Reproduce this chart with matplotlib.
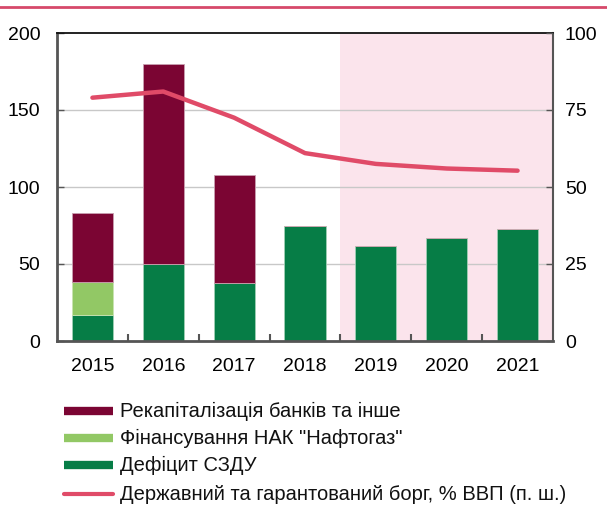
import matplotlib
matplotlib.use("Agg")
import matplotlib.pyplot as plt
from matplotlib.lines import Line2D
import numpy as np

plt.rcParams['font.family'] = ['Liberation Sans', 'DejaVu Sans']

years = ["2015", "2016", "2017", "2018", "2019", "2020", "2021"]
deficit = [17, 50, 37.5, 75, 61.5, 67, 73]
naftogaz = [21, 0, 0, 0, 0, 0, 0]
recap = [45, 130, 70, 0, 0, 0, 0]
debt_gdp = [79, 81, 72.5, 61, 57.5, 56, 55.3]

labels = ["Рекапіталізація банків та інше",
          "Фінансування НАК \"Нафтогаз\"",
          "Дефіцит СЗДУ",
          "Державний та гарантований борг, % ВВП (п. ш.)"]

c_recap = "#7B0533"
c_naft = "#92C865"
c_def = "#067D46"
c_line = "#E04B68"
c_shade = "#FBE4EC"

fs = 14

fig = plt.figure(figsize=(6.07, 5.05), dpi=100)
ax = fig.add_axes([57 / 607, 1 - 341 / 505, 496 / 607, 308 / 505])
x = np.arange(len(years))

# forecast period shading
ax.axvspan(3.5, 6.5, color=c_shade, lw=0, zorder=0)
for v in (50, 100, 150):
    ax.axhline(v, color="#C8C8C8", lw=1, zorder=1)

w = 0.58
bottom_naft = np.array(deficit)
bottom_recap = bottom_naft + np.array(naftogaz)
ax.bar(x, deficit, w, color=c_def, edgecolor="#9FCFB5", lw=0.6, zorder=2)
ax.bar(x, naftogaz, w, bottom=bottom_naft, color=c_naft, edgecolor="#C9E4B2", lw=0.6, zorder=2)
ax.bar(x, recap, w, bottom=bottom_recap, color=c_recap, edgecolor="#C9A0B0", lw=0.6, zorder=2)

ax.set_xlim(-0.5, 6.5)
ax.set_ylim(0, 200)
ax.set_yticks([0, 50, 100, 150, 200])
ax.set_xticks(x)
ax.set_xticklabels(years)
ax.set_xticks(np.arange(0.5, 6.5, 1), minor=True)
ax.tick_params(axis="x", which="major", length=0, pad=12.5, labelsize=fs)
ax.tick_params(axis="x", which="minor", direction="in", length=5, width=1.5, color="#555555")
ax.tick_params(axis="y", direction="in", length=5, width=1, color="#555555", labelsize=fs, pad=12)

ax.spines["left"].set_color("#555555")
ax.spines["left"].set_linewidth(2)
ax.spines["bottom"].set_color("#555555")
ax.spines["bottom"].set_linewidth(2)
ax.spines["top"].set_color("#111111")
ax.spines["top"].set_linewidth(1.3)
ax.spines["right"].set_color("#555555")
ax.spines["right"].set_linewidth(1.5)

ax2 = ax.twinx()
ax2.plot(x, debt_gdp, color=c_line, lw=3.2, solid_capstyle="round", zorder=3)
ax2.set_ylim(0, 100)
ax2.set_yticks([0, 25, 50, 75, 100])
ax2.tick_params(axis="y", direction="in", length=5, width=1, color="#555555", labelsize=fs, pad=8.5)
for s in ax2.spines.values():
    s.set_visible(False)

# rule along the top
fig.add_artist(Line2D([0, 1], [1 - 7 / 505, 1 - 7 / 505], color="#D6496A", lw=2))

# legend drawn by hand
rows = [411, 438, 465, 494]
styles = [(c_recap, 6, "butt"), (c_naft, 6, "butt"), (c_def, 6, "butt"), (c_line, 3, "round")]
for lab, yy, (col, lw, cap) in zip(labels, rows, styles):
    yf = 1 - yy / 505
    fig.add_artist(Line2D([64 / 607, 113 / 607], [yf, yf], color=col, lw=lw, solid_capstyle=cap))
    fig.text(120 / 607, yf, lab, fontsize=14.5, va="center", ha="left", color="#111111")

fig.savefig("out.png", dpi=100)
